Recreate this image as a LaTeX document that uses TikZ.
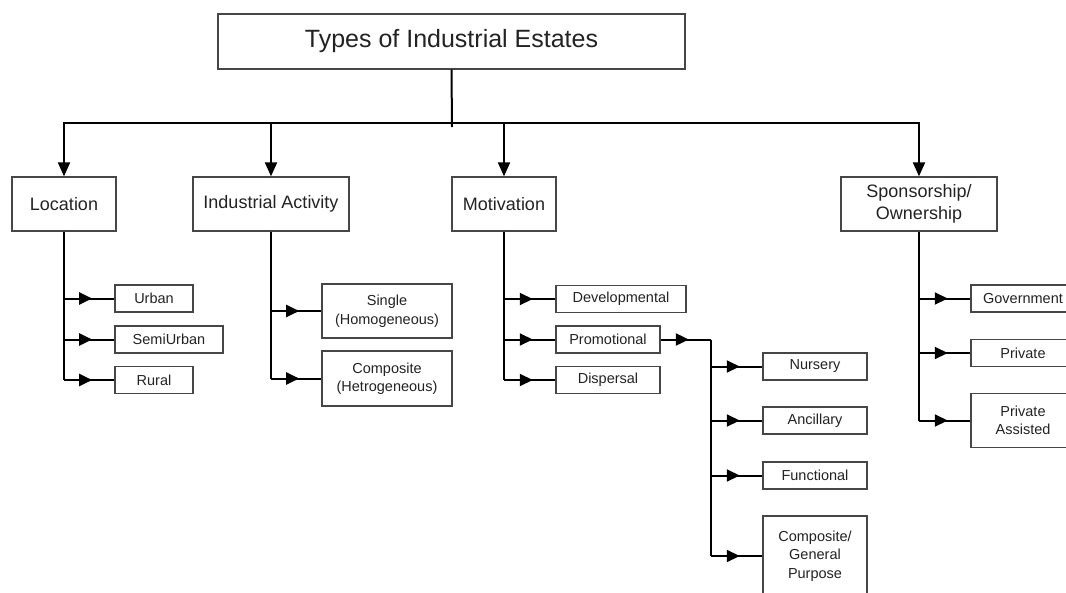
\documentclass[tikz,border=0pt]{standalone}
\usepackage{fontspec}
\setmainfont{Liberation Sans}
\usetikzlibrary{arrows.meta, decorations.markings, positioning}
\definecolor{boxgray}{RGB}{70, 70, 70}
\definecolor{inkgray}{RGB}{35, 35, 35}

\begin{document}
\begin{tikzpicture}[
  x=1pt, y=-1pt,
  topbox/.style={draw=boxgray, line width=1.3pt, minimum width=467pt, minimum height=55pt, inner sep=0pt, text=inkgray, font=\fontsize{25}{30}\selectfont},
  catbox/.style={draw=boxgray, line width=1.3pt, minimum width=104pt, minimum height=54pt, inner sep=0pt, align=center, text=inkgray, font=\fontsize{18}{21.5}\selectfont},
  subbox/.style={draw=boxgray, line width=1.3pt, minimum width=104pt, minimum height=27pt, inner sep=0pt, align=center, text=inkgray, font=\fontsize{14.5}{18.5}\selectfont},
  conn/.style={draw=black, line width=2pt},
  downarrow/.style={conn, -{Triangle[length=14pt, width=12pt]}},
  midarrow/.style={conn, postaction={decorate}, decoration={markings, mark=at position 0.56 with {\arrow{Triangle[length=13pt, width=12pt]}}}}
]
  \useasboundingbox[fill=white] (0,0) rectangle (1066,592);

  \node[topbox] (title) at (451.5, 41.5) {Types of Industrial Estates};

  \node[catbox] (loc) at (64, 204) {Location};
  \node[catbox, minimum width=156pt] (indact) at (271, 204) {Industrial Activity};
  \node[catbox] (motiv) at (504, 204) {Motivation};
  \node[catbox, minimum width=156pt] (spons) at (919, 204) {Sponsorship/\\Ownership};

  \node[subbox, minimum width=78pt] (urban) at (154, 298.5) {Urban};
  \node[subbox, minimum width=108pt] (semiurban) at (169, 339.5) {SemiUrban};
  \node[subbox, minimum width=78pt] (rural) at (154, 380) {Rural};

  \node[subbox, minimum width=130pt, minimum height=54pt] (single) at (387, 311) {Single\\(Homogeneous)};
  \node[subbox, minimum width=130pt, minimum height=55pt] (compo) at (387, 378.5) {Composite\\(Hetrogeneous)};

  \node[subbox, minimum width=130pt] (devel) at (621, 299) {Developmental};
  \node[subbox] (promo) at (608, 339.5) {Promotional};
  \node[subbox] (disp) at (608, 380) {Dispersal};

  \node[subbox] (nursery) at (815, 366.5) {Nursery};
  \node[subbox] (ancill) at (815, 420.5) {Ancillary};
  \node[subbox] (func) at (815, 475.5) {Functional};
  \node[subbox, minimum height=80pt] (genpur) at (815, 556) {Composite/\\General\\Purpose};

  \node[subbox] (govt) at (1023, 298.5) {Government};
  \node[subbox] (private) at (1023, 353) {Private};
  \node[subbox, minimum height=54pt] (privass) at (1023, 420.5) {Private\\Assisted};

  \coordinate (bus) at (452, 123);
  \coordinate (busend) at (452, 127);
  \coordinate (pj) at (711, 339.5);

  \draw[conn] (title.south) -- (busend);
  \draw[downarrow] (bus) -| (loc.north);
  \draw[downarrow] (bus) -| (indact.north);
  \draw[downarrow] (bus) -| (motiv.north);
  \draw[downarrow] (bus) -| (spons.north);

  \draw[conn] (loc.south) -- (loc.south |- rural.west);
  \draw[midarrow] (loc.south |- urban.west) -- (urban.west);
  \draw[midarrow] (loc.south |- semiurban.west) -- (semiurban.west);
  \draw[midarrow] (loc.south |- rural.west) -- (rural.west);

  \draw[conn] (indact.south) -- (indact.south |- compo.west);
  \draw[midarrow] (indact.south |- single.west) -- (single.west);
  \draw[midarrow] (indact.south |- compo.west) -- (compo.west);

  \draw[conn] (motiv.south) -- (motiv.south |- disp.west);
  \draw[midarrow] (motiv.south |- devel.west) -- (devel.west);
  \draw[midarrow] (motiv.south |- promo.west) -- (promo.west);
  \draw[midarrow] (motiv.south |- disp.west) -- (disp.west);

  \draw[midarrow] (promo.east) -- (pj);
  \draw[conn] (pj) -- (pj |- genpur.west);
  \draw[midarrow] (pj |- nursery.west) -- (nursery.west);
  \draw[midarrow] (pj |- ancill.west) -- (ancill.west);
  \draw[midarrow] (pj |- func.west) -- (func.west);
  \draw[midarrow] (pj |- genpur.west) -- (genpur.west);

  \draw[conn] (spons.south) -- (spons.south |- privass.west);
  \draw[midarrow] (spons.south |- govt.west) -- (govt.west);
  \draw[midarrow] (spons.south |- private.west) -- (private.west);
  \draw[midarrow] (spons.south |- privass.west) -- (privass.west);
\end{tikzpicture}
\end{document}
